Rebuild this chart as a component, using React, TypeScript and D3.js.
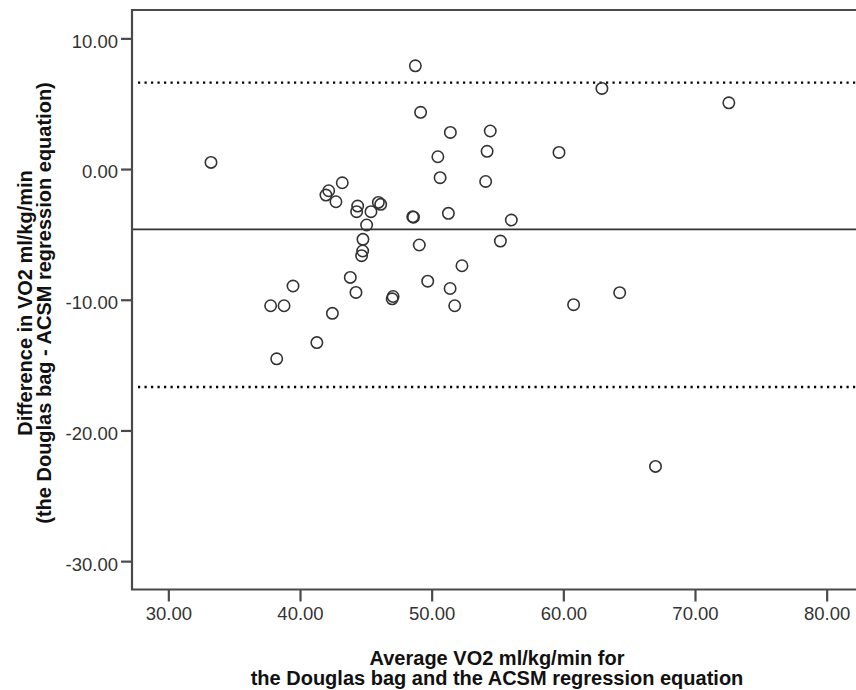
import React, { useRef, useEffect } from 'react';
import * as d3 from 'd3';

// Average of the two methods (x) and their difference (y)
const avgVO2 = [
  33.24, 37.77, 38.79, 38.23, 39.47, 41.28, 42.46, 41.97, 42.18, 42.73,
  43.21, 43.82, 44.25, 44.38, 44.3, 44.78, 44.76, 44.68, 45.06, 45.39,
  45.95, 46.13, 47.07, 47.0, 48.56, 48.62, 48.76, 49.16, 49.06, 49.7,
  50.47, 50.64, 51.27, 51.42, 51.4, 51.75, 52.3, 54.1, 54.21, 54.45,
  55.22, 56.05, 59.67, 60.78, 62.93, 64.28, 67.0, 72.57,
];
const diffVO2 = [
  0.51, -10.46, -10.46, -14.52, -8.95, -13.28, -11.04, -1.99, -1.66, -2.5,
  -1.05, -8.29, -9.44, -2.83, -3.26, -5.38, -6.27, -6.63, -4.28, -3.26,
  -2.55, -2.7, -9.75, -9.93, -3.65, -3.68, 7.9, 4.34, -5.81, -8.58,
  0.94, -0.66, -3.39, 2.8, -9.14, -10.46, -7.4, -0.95, 1.36, 2.91,
  -5.51, -3.9, 1.27, -10.38, 6.17, -9.46, -22.75, 5.07,
];

const meanDiff = -4.62;
const limitsOfAgreement = [6.61, -16.68];

const xTicks = [30, 40, 50, 60, 70, 80];
const yTicks = [10, 0, -10, -20, -30];

const xTitle = ['Average VO2 ml/kg/min for', 'the Douglas bag and the ACSM regression equation'];
const yTitle = ['Difference in VO2 ml/kg/min', '(the Douglas bag - ACSM regression equation)'];

const W = 856;
const H = 690;
const FONT = '"Liberation Sans", Arial, Helvetica, sans-serif';

const App = () => {
  const svgRef = useRef<SVGSVGElement>(null);

  useEffect(() => {
    const svg = d3.select(svgRef.current);
    svg.selectAll('*').remove();

    const plot = { left: 132, right: 858, top: 10, bottom: 589.5 };

    const x = d3.scaleLinear().domain([27.24, 82.38]).range([plot.left, plot.right]);
    const y = d3.scaleLinear().domain([-32.17, 12.17]).range([plot.bottom, plot.top]);
    // SPSS style labels use a plain hyphen for negatives
    const fmt = (v: number) => d3.format('.2f')(v).replace('\u2212', '-');

    // reference lines
    svg.append('line')
      .attr('x1', plot.left).attr('x2', plot.right)
      .attr('y1', y(meanDiff)).attr('y2', y(meanDiff))
      .attr('stroke', '#333').attr('stroke-width', 1.7);

    svg.selectAll('.loa')
      .data(limitsOfAgreement)
      .enter()
      .append('line')
      .attr('class', 'loa')
      .attr('x1', plot.left + 6).attr('x2', plot.right)
      .attr('y1', (d) => y(d)).attr('y2', (d) => y(d))
      .attr('stroke', '#000').attr('stroke-width', 2.4)
      .attr('stroke-dasharray', '2.2 4.3');

    // points
    svg.selectAll('.pt')
      .data(avgVO2.map((a, i) => ({ a, d: diffVO2[i] })))
      .enter()
      .append('circle')
      .attr('class', 'pt')
      .attr('cx', (p) => x(p.a))
      .attr('cy', (p) => y(p.d))
      .attr('r', 5.7)
      .attr('fill', 'none')
      .attr('stroke', '#333')
      .attr('stroke-width', 1.6);

    // frame
    svg.append('path')
      .attr('d', `M${plot.right},${plot.top}H${plot.left}V${plot.bottom}H${plot.right}`)
      .attr('fill', 'none')
      .attr('stroke', '#4a4a4a')
      .attr('stroke-width', 2.2);

    // y axis
    const yAxis = svg.append('g')
      .attr('transform', `translate(${plot.left}, 0)`)
      .call(d3.axisLeft(y).tickValues(yTicks).tickSize(11).tickPadding(3).tickFormat((d) => fmt(d as number)));
    yAxis.select('.domain').remove();
    yAxis.selectAll('line').attr('stroke', '#4a4a4a').attr('stroke-width', 2.2);
    yAxis.selectAll('text')
      .attr('dy', '0.48em')
      .attr('fill', '#333')
      .style('font-family', FONT)
      .style('font-size', '18.5px');

    // x axis
    const xAxis = svg.append('g')
      .attr('transform', `translate(0, ${plot.bottom})`)
      .call(d3.axisBottom(x).tickValues(xTicks).tickSize(12).tickPadding(0).tickFormat((d) => fmt(d as number)));
    xAxis.select('.domain').remove();
    xAxis.selectAll('line').attr('stroke', '#4a4a4a').attr('stroke-width', 2.2);
    xAxis.selectAll('text')
      .attr('y', 30.5)
      .attr('dy', 0)
      .attr('fill', '#333')
      .style('font-family', FONT)
      .style('font-size', '18.5px');

    // axis titles
    svg.append('g')
      .selectAll('text')
      .data(xTitle)
      .enter()
      .append('text')
      .attr('x', 497)
      .attr('y', (_, i) => 665 + i * 20)
      .attr('text-anchor', 'middle')
      .style('font-family', FONT)
      .style('font-size', '20px')
      .style('font-weight', 'bold')
      .attr('fill', '#111')
      .text((d) => d);

    svg.append('g')
      .attr('transform', 'translate(0, 303) rotate(-90)')
      .selectAll('text')
      .data(yTitle)
      .enter()
      .append('text')
      .attr('x', 0)
      .attr('y', (_, i) => 31.5 + i * 19.5)
      .attr('text-anchor', 'middle')
      .style('font-family', FONT)
      .style('font-size', '20px')
      .style('font-weight', 'bold')
      .attr('fill', '#111')
      .text((d) => d);
  }, []);

  return (
    <div style={{ position: 'absolute', left: 0, top: 0, background: '#fff' }}>
      <svg ref={svgRef} width={W} height={H} style={{ display: 'block' }}></svg>
    </div>
  );
};

export default App;
